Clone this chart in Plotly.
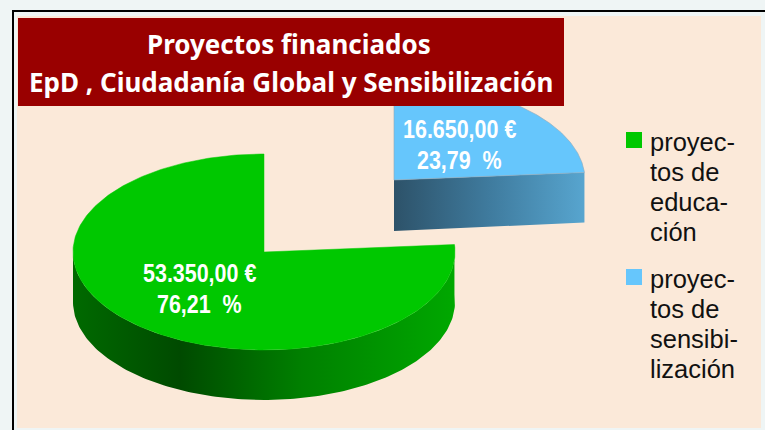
import math
import plotly.graph_objects as go

# ---- data ----
categories = ["proyectos de educación", "proyectos de sensibilización"]
values = [53350.00, 16650.00]
value_labels = ["53.350,00 €", "16.650,00 €"]
percent_labels = ["76,21\u00a0\u00a0%", "23,79\u00a0\u00a0%"]
legend_lines = [["proyec-", "tos de", "educa-", "ción"], ["proyec-", "tos de", "sensibi-", "lización"]]
title_lines = ["Proyectos financiados", "EpD , Ciudadanía Global y Sensibilización"]

# ---- styles / layout ----
W, H = 765, 430
OUTER = "#eff5f5"; PANEL = "#fbe9d9"; TITLE_BG = "#990000"
TOP = ["#00c800", "#66c6fc"]
CX = [264, 394]; CY = [252, 180]
RX, RY, DEPTH = 191, 98, 50
LABEL_XY = [(199, 273), (459, 129)]
LEG_X, LEG_TXT = 634, 650
LEG_Y = [140, 277]

total = sum(values)
ang0 = [90.0, 90.0 + values[0] / total * 360.0]
ang1 = [ang0[1], 450.0]

def rim(i, a, b, n=160, dy=0):
    xs, ys = [], []
    for k in range(n + 1):
        t = math.radians(a + (b - a) * k / n)
        xs.append(CX[i] + RX * math.cos(t))
        ys.append(CY[i] - RY * math.sin(t) + dy)
    return xs, ys

fig = go.Figure()

# green rim (front wall)
xa, ya = rim(0, 180, 360)
xa2, ya2 = rim(0, 360, ang1[0], n=10)
xb, yb = rim(0, 180, 360, dy=DEPTH)
sx = xa + xa2 + [xa2[-1]] + xb[::-1] + [xa[0]]
sy = ya + ya2 + [ya2[-1] + DEPTH] + yb[::-1] + [ya[0]]
fig.add_trace(go.Scatter(x=sx, y=sy, mode="lines", fill="toself", line=dict(width=0), hoverinfo="skip",
    showlegend=False,
    fillgradient=dict(type="horizontal", colorscale=[[0, "#006a00"], [0.28, "#004a00"], [0.6, "#008000"], [1, "#00a800"]])))

# green top
x, y = rim(0, ang0[0], ang1[0], n=300)
fig.add_trace(go.Scatter(x=[CX[0]] + x + [CX[0]], y=[CY[0]] + y + [CY[0]], mode="lines", fill="toself",
    fillcolor=TOP[0], line=dict(width=0.5, color=TOP[0]), name=categories[0], showlegend=False))

# blue cut face
x, y = rim(1, ang1[0], ang1[0], n=1)
fig.add_trace(go.Scatter(x=[CX[1], x[0], x[0], CX[1], CX[1]],
    y=[CY[1], y[0], y[0] + DEPTH, CY[1] + DEPTH + 1, CY[1]], mode="lines", fill="toself",
    line=dict(width=0), hoverinfo="skip", showlegend=False,
    fillgradient=dict(type="horizontal", colorscale=[[0, "#2d5269"], [0.5, "#3f7b9e"], [1, "#57a5cf"]])))

# blue top
x, y = rim(1, ang1[0], ang1[1], n=120)
fig.add_trace(go.Scatter(x=[CX[1]] + x + [CX[1]], y=[CY[1]] + y + [CY[1]], mode="lines", fill="toself",
    fillcolor=TOP[1], line=dict(width=0.6, color="#8fa8b8"), name=categories[1], showlegend=False))

# legend swatches
for i in range(2):
    fig.add_trace(go.Scatter(x=[LEG_X], y=[LEG_Y[i]], mode="markers", name=categories[i], showlegend=False,
        marker=dict(symbol="square", size=16, color=TOP[i], line=dict(width=0))))

ann = []
for i in range(2):
    lx, ly = LABEL_XY[i]
    for j, t in enumerate([value_labels[i], percent_labels[i]]):
        ann.append(dict(x=lx, y=ly + j * 31, text=t, showarrow=False, xanchor="center", yanchor="middle",
            font=dict(family="Liberation Sans", size=26, color="white", weight="bold")))
    for j, t in enumerate(legend_lines[i]):
        ann.append(dict(x=LEG_TXT, y=LEG_Y[i] + 2 + j * 30, text=t, showarrow=False, xanchor="left", yanchor="middle",
            xshift=-2, font=dict(family="Liberation Sans", size=25.5, color="#111111")))
for j, t in enumerate(title_lines):
    ann.append(dict(x=289 if j == 0 else 291, y=44 + j * 38, text=t, showarrow=False,
        font=dict(family="Noto Sans", size=26, color="white", weight="bold")))

shapes = [
    dict(type="rect", layer="below", x0=17, x1=761, y0=16, y1=428, fillcolor=PANEL, line=dict(width=0)),
    dict(type="rect", layer="below", x0=12, x1=14, y0=10, y1=430, fillcolor="#000000", line=dict(width=0)),
    dict(type="rect", layer="below", x0=12, x1=765, y0=10, y1=12, fillcolor="#000000", line=dict(width=0)),
    dict(type="rect", layer="above", x0=18, x1=564, y0=18, y1=106, fillcolor=TITLE_BG, line=dict(width=0)),
]

fig.update_layout(width=W, height=H, margin=dict(l=0, r=0, t=0, b=0), paper_bgcolor=OUTER, plot_bgcolor="rgba(0,0,0,0)",
    xaxis=dict(range=[0, W], visible=False, fixedrange=True),
    yaxis=dict(range=[H, 0], visible=False, fixedrange=True),
    shapes=shapes, annotations=ann, showlegend=False)

post = """
document.documentElement.style.overflow='hidden';
document.body.style.margin='0';
document.querySelectorAll('.annotation-text').forEach(function(el){
  var s = el.textContent;
  if (s.indexOf('\\u20ac') >= 0 || s.indexOf('%') >= 0) {
    el.style.transformBox = 'fill-box';
    el.style.transformOrigin = 'center';
    el.style.transform = 'scaleX(0.825)';
  }
});
"""
fig.write_html("out.html", config={"displayModeBar": False}, post_script=post)
